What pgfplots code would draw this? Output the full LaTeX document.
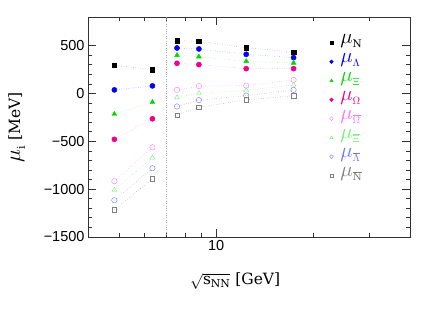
\RequirePackage{fix-cm}
\documentclass[border=0pt]{standalone}
\usepackage{pgfplots}
\usepackage{pgfplotstable}
\pgfplotsset{compat=1.18}
\usepackage{fontspec}
\setmainfont{DejaVu Serif}
\newfontfamily\ticksf{Liberation Sans}
\newcommand\bmu{\scalebox{1.4}{$\mu$}}
\definecolor{mgreen}{rgb}{0,0.85,0}
\definecolor{lmag}{rgb}{1,0.45,1}
\definecolor{lgreen}{rgb}{0.45,0.95,0.45}
\definecolor{lblue}{rgb}{0.45,0.45,1}
\pgfplotstableread{
x     N    L     X     O     aO    aX    aL    aN
4.83  296  38   -215  -479  -917  -1010 -1115 -1215
6.34  250  80   -90   -264  -562  -672  -781  -892
nan   nan  nan   nan   nan   nan   nan   nan   nan
7.56  552  476   400   316   38   -42   -135  -225
8.84  546  466   385   302   77    4    -69   -142
12.4  479  410   337   260   83    31   -21   -66
17.4  434  375   320   260   143   91    38   -24
}\datatab
\begin{document}
\begin{tikzpicture}
\begin{axis}[name=ax,
  scale only axis, width=322bp, height=220bp,
  xmode=log, xmin=4, xmax=40, ymin=-1500, ymax=800,
  unbounded coords=jump,
  xtick={10}, xticklabels={10},
  minor xtick={5,6,7,8,9,20,30},
  ytick={-1500,-1000,-500,0,500},
  yticklabels={−1500,−1000,−500,0,500},
  minor y tick num=4,
  tick align=inside,
  major tick length=8bp, minor tick length=4bp,
  every tick/.style={black!80, line width=0.8pt},
  axis line style={black!80, line width=0.9pt},
  tick label style={font=\ticksf\fontsize{14.5bp}{16bp}\selectfont},
  xlabel={$\sqrt{\mathrm{s}_{\mathrm{NN}}}$\ [GeV]},
  ylabel={$\bmu_{\mathrm{i}}$ [MeV]},
  xlabel style={font=\fontsize{15.5bp}{18bp}\selectfont, at={(axis description cs:0.457,-0.218)}, anchor=base},
  ylabel style={font=\fontsize{15.5bp}{18bp}\selectfont, at={(axis description cs:-0.222,0.5)}, anchor=center},
  legend style={at={(rel axis cs:0.75,0.927)}, anchor=north west, draw=none, fill=none,
     inner sep=0pt, row sep=0pt, column sep=5bp, font=\fontsize{15bp}{18bp}\selectfont,
     nodes={inner xsep=2bp, inner ysep=0pt, text height=10bp, text depth=9bp}},
  legend cell align=left,
  legend image post style={mark size=1.8bp},
]
\addplot[gray!70, dotted, forget plot] coordinates {(7,-1500) (7,800)};
% lines
\addplot[gray, dotted, forget plot] table[x=x,y=N]{\datatab};
\addplot[lblue, dotted, forget plot] table[x=x,y=L]{\datatab};
\addplot[lgreen, dotted, forget plot] table[x=x,y=X]{\datatab};
\addplot[lmag, dotted, forget plot] table[x=x,y=O]{\datatab};
\addplot[lmag, dotted, forget plot] table[x=x,y=aO]{\datatab};
\addplot[lgreen, dotted, forget plot] table[x=x,y=aX]{\datatab};
\addplot[lblue, dotted, forget plot] table[x=x,y=aL]{\datatab};
\addplot[gray, dotted, forget plot] table[x=x,y=aN]{\datatab};
% marks
\addplot[only marks, mark=square*, mark size=2.2bp, black] table[x=x,y=N]{\datatab};
\addlegendentry{\color{black}$\bmu_{\mathrm{N}}$}
\addplot[only marks, mark=*, mark size=2.6bp, blue] table[x=x,y=L]{\datatab};
\addlegendentry{\color{blue}$\bmu_{\Lambda}$}
\addplot[only marks, mark=triangle*, mark size=2.8bp, mgreen] table[x=x,y=X]{\datatab};
\addlegendentry{\color{mgreen}$\bmu_{\Xi}$}
\addplot[only marks, mark=*, mark size=2.6bp, magenta] table[x=x,y=O]{\datatab};
\addlegendentry{\color{magenta}$\bmu_{\Omega}$}
\addplot[only marks, mark=o, mark size=2.7bp, lmag] table[x=x,y=aO]{\datatab};
\addlegendentry{\color{lmag}$\bmu_{\overline{\Omega}}$}
\addplot[only marks, mark=triangle, mark size=2.8bp, lgreen] table[x=x,y=aX]{\datatab};
\addlegendentry{\color{lgreen}$\bmu_{\overline{\Xi}}$}
\addplot[only marks, mark=o, mark size=2.7bp, lblue] table[x=x,y=aL]{\datatab};
\addlegendentry{\color{lblue}$\bmu_{\overline{\Lambda}}$}
\addplot[only marks, mark=square, mark size=2.2bp, gray] table[x=x,y=aN]{\datatab};
\addlegendentry{\color{gray}$\bmu_{\overline{\mathrm{N}}}$}
\end{axis}
\path ([shift={(-88bp,-73bp)}]ax.south west) rectangle ([shift={(26bp,17bp)}]ax.north east);
\end{tikzpicture}
\end{document}
